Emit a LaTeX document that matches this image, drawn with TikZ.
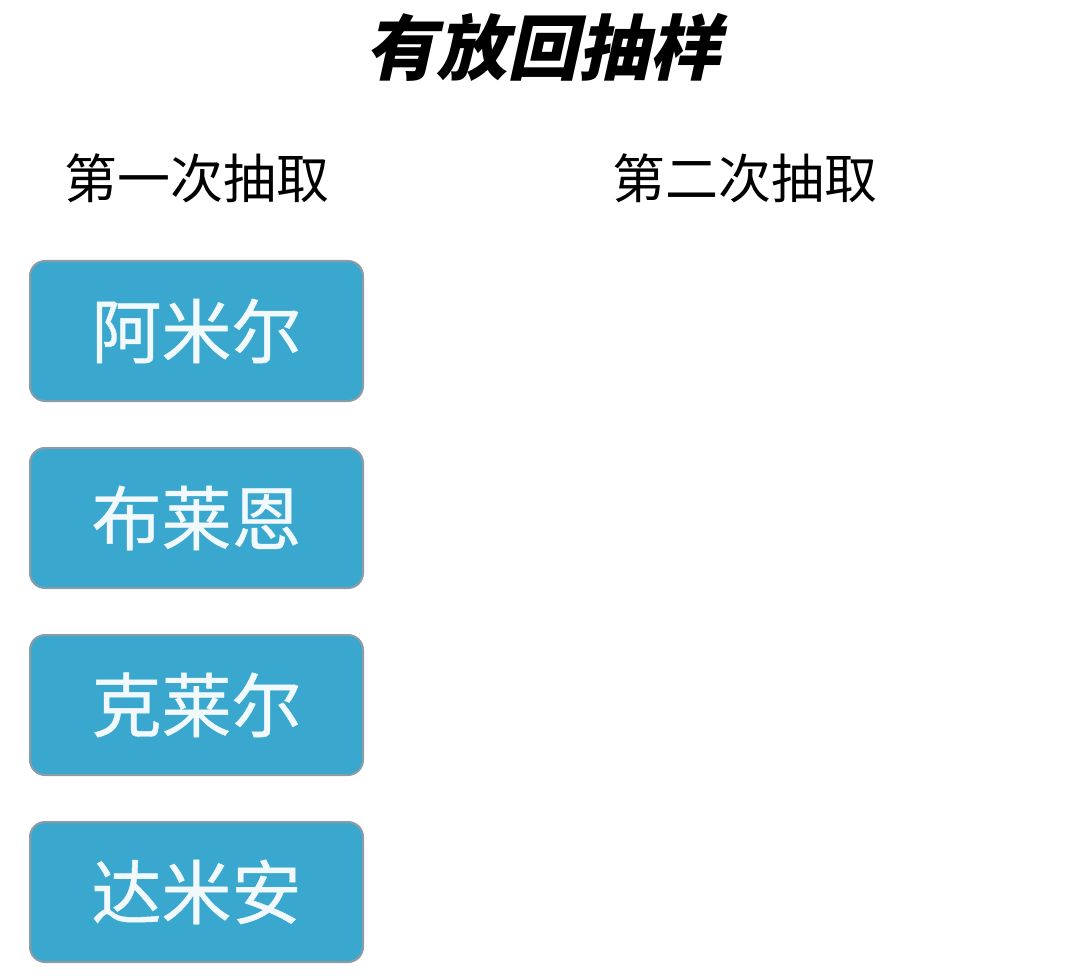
\documentclass[tikz,border=0pt]{standalone}
\usepackage{fontspec}
\newfontfamily\cjk{Noto Sans CJK SC}
\newfontfamily\cjkname[FakeBold=0.6]{Noto Sans CJK SC}
\newfontfamily\cjktitle[FakeSlant=0.22]{Noto Sans CJK SC}
\usetikzlibrary{positioning}
\definecolor{boxblue}{HTML}{3AA8CE}
\definecolor{boxedge}{HTML}{8C9CA6}
\definecolor{boxtext}{HTML}{F2F9FC}

\begin{document}
\begin{tikzpicture}
[x=1pt,y=-1pt,%
  every node/.style={inner sep=0pt},%
  namebox/.style={shape=rectangle,rounded corners=15pt,draw=boxedge,line width=2pt,
    fill=boxblue,text=boxtext,minimum width=333pt,minimum height=140pt,
    font=\cjkname\fontsize{70}{70}\selectfont},%
  header/.style={font=\cjk\fontsize{53}{53}\selectfont}]
\useasboundingbox (0,0) rectangle (1086,976);
\node (title) at (543,47) {\cjktitle\bfseries\fontsize{71}{71}\selectfont 有放回抽样};
\node[header] (first) at (197,178) {第一次抽取};
\node[header] (second) at (745,178) {第二次抽取};
\node[namebox] (amir) at (196.5,331) {阿米尔};
\node[namebox,below=45pt of amir] (brian) {布莱恩};
\node[namebox,below=45pt of brian] (claire) {克莱尔};
\node[namebox,below=45pt of claire] (damian) {达米安};
\end{tikzpicture}
\end{document}
